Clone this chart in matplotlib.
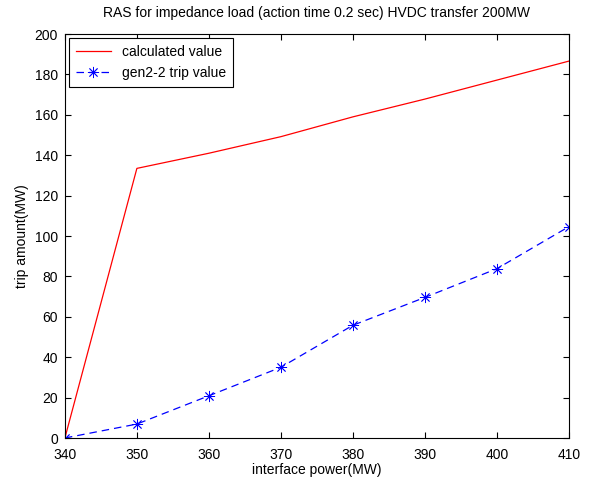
import numpy as np
import matplotlib
matplotlib.use('Agg')
import matplotlib.pyplot as plt

plt.rcParams['font.family'] = ['Liberation Sans', 'DejaVu Sans']

# interface power (MW)
power = [340, 350, 360, 370, 380, 390, 400, 410]
# calculated trip amount (MW)
calc_vals = [0, 133.5, 141, 149.2, 159, 167.8, 177.2, 186.6]
# gen2-2 trip value (MW)
gen_vals = [0, 6.9, 20.9, 35, 55.8, 69.6, 83.8, 104.6]

xticks = [340, 350, 360, 370, 380, 390, 400, 410]
yticks = [0, 20, 40, 60, 80, 100, 120, 140, 160, 180, 200]

fig = plt.figure(figsize=(5.9, 4.8), dpi=100)
ax = fig.add_axes([0.110, 0.0875, 0.854, 0.8415])

ax.plot(power, calc_vals, color='red', lw=0.9, label='calculated value')
# matlab style asterisk marker
ax.plot(power, gen_vals, color='blue', lw=0.9, ls=(0, (6, 4)), marker=(8, 2, 0),
        ms=8, mew=0.6, label='gen2-2 trip value')

ax.set_xlim(340, 410)
ax.set_ylim(0, 200)
ax.set_xticks(xticks)
ax.set_yticks(yticks)
ax.tick_params(direction='in', top=True, right=True, labelsize=10, length=4)
ax.tick_params(axis='x', pad=7)
ax.tick_params(axis='y', pad=5)
ax.set_xlabel('interface power(MW)', fontsize=10, labelpad=1)
ax.set_ylabel('trip amount(MW)', fontsize=10, labelpad=4)
ax.set_title('RAS for impedance load (action time 0.2 sec) HVDC transfer 200MW',
             fontsize=10, pad=12)

leg = ax.legend(loc='upper left', fontsize=10, fancybox=False, framealpha=1,
                edgecolor='black', borderaxespad=0.3, handlelength=2.5,
                borderpad=0.5)
leg.get_frame().set_linewidth(0.8)

fig.savefig('out.png', dpi=100)
